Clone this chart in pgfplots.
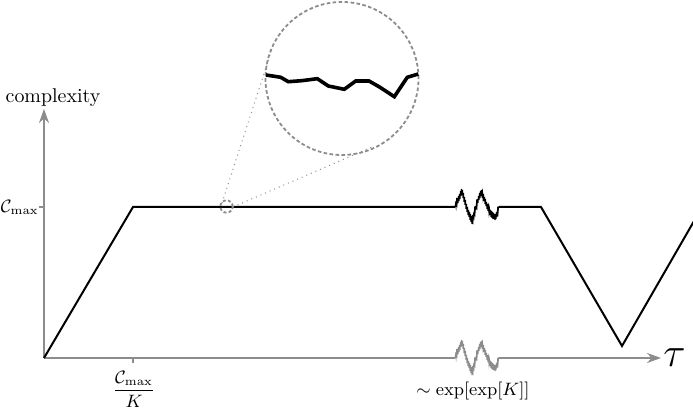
\documentclass[border=0pt]{standalone}
\usepackage{pgfplots}
\pgfplotsset{compat=1.18}
\usetikzlibrary{arrows.meta}
\usepackage{pgfplotstable}

% jagged bit, offsets from the baseline
\pgfplotstableread{
x d
455 0
455.5 3
456 0
456.5 6
457 3
457.5 9
458 4
458.5 11
459 6
459.5 13
460 8
460.5 16
461 11
461.5 18
462 12
462.5 17
463 9
463.5 14
464 5
464.5 10
465 2
465.5 7
466 -2
466.5 3
467 -5
467.5 0
468 -8
468.5 -3
469 -10
469.5 -5
470 -13
470.5 -7
471 -15
471.5 -9
472 -17
472.5 -11
473 -14
473.5 -8
474 -10
474.5 -3
475 -6
475.5 1
476 -3
476.5 4
477 1
477.5 8
478 4
478.5 11
479 7
479.5 14
480 9
480.5 16
481 11
481.5 17
482 12
482.5 15
483 9
483.5 13
484 6
484.5 10
485 3
485.5 8
486 1
486.5 5
487 -2
487.5 3
488 -4
488.5 0
489 -6
489.5 -2
490 -8
490.5 -3
491 -10
491.5 -4
492 -11
492.5 -5
493 -12
493.5 -6
494 -12
494.5 -7
495 -13
495.5 -7
496 -12
496.5 -5
497 -10
497.5 -3
498 -6
498.5 0
499 0
}\noisetab

\definecolor{axgray}{gray}{0.55}
\definecolor{circgray}{gray}{0.55}

\begin{document}
\begin{tikzpicture}
\begin{axis}[
    width=346.5bp, height=204.5bp, scale only axis,
    xmin=0, xmax=693, ymin=0, ymax=409,
    hide axis,
    clip mode=individual,
]
\coordinate (bl) at (rel axis cs:0,0);
\coordinate (tr) at (rel axis cs:1,1);

% axes
\addplot[axgray, line width=1bp] coordinates {(44,51) (455,51)};
\addplot[axgray, line width=0.5bp] table[x=x, y expr=51+\thisrow{d}] {\noisetab};
\addplot[axgray, line width=1bp, -{Stealth[length=7bp,width=5bp]}] coordinates {(499,51) (661,51)};
\addplot[axgray, line width=1bp, -{Stealth[length=7bp,width=5bp]}] coordinates {(44,51) (44,300)};
\addplot[axgray, line width=0.8bp] coordinates {(38.5,202) (44,202)};
\addplot[axgray, line width=0.8bp] coordinates {(133,51) (133,46)};

% curve
\addplot[black, line width=1bp] coordinates {(44,51) (133,202) (455,202)};
\addplot[black, line width=0.5bp] table[x=x, y expr=202+\thisrow{d}] {\noisetab};
\addplot[black, line width=1bp] coordinates {(499,202) (541,202) (622,63) (705,207)};

% zoom
\draw[circgray, line width=0.9bp, dash pattern=on 1.8bp off 1.2bp] (axis cs:342,330.5) circle[radius=38.25bp];
\draw[circgray, line width=0.9bp, dash pattern=on 1.5bp off 1.1bp] (axis cs:226.5,202.5) circle[radius=3.1bp];
\draw[circgray, line width=0.5bp, dotted] (axis cs:222,206) -- (axis cs:272,360);
\draw[circgray, line width=0.5bp, dotted] (axis cs:233,202) -- (axis cs:372,262);
\addplot[black, line width=1.8bp] coordinates {
    (266,334) (280.7,331.7) (288.3,327.3) (301.7,328.3) (317.3,330.3)
    (328.3,323) (344.3,319.7) (355.7,328) (369,328) (380,321.7)
    (394.3,312.3) (407.3,331.7) (418.3,335)
};

% labels
\node[anchor=base] at (axis cs:53,306) {complexity};
\node[anchor=east, inner sep=0pt, font=\small] at (axis cs:39,202) {$\mathcal{C}_{\max}$};
\node[anchor=north, inner sep=1bp, font=\small] at (axis cs:134,40) {$\displaystyle\frac{\mathcal{C}_{\max}}{K}$};
\node[anchor=center, font=\small] at (axis cs:473,18) {$\sim \exp[\exp[K]]$};
\node[anchor=west, inner sep=0pt] at (axis cs:663,51) {\fontsize{22}{24}\selectfont $\tau$};
\end{axis}
\pgfresetboundingbox
\path (bl) rectangle (tr);
\end{tikzpicture}
\end{document}
